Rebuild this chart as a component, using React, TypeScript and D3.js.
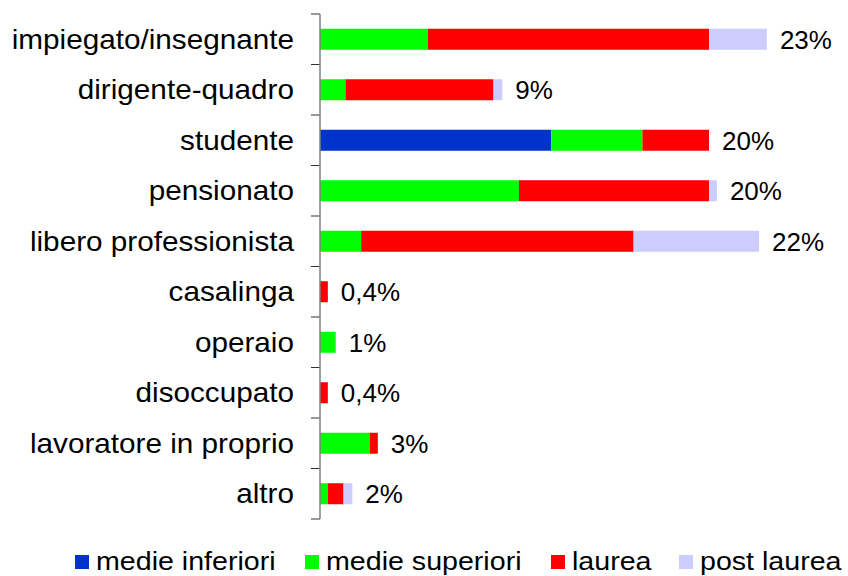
import React, { useRef, useEffect } from "react";
import * as d3 from "d3";

// categories top to bottom
const categories = [
  "impiegato/insegnante",
  "dirigente-quadro",
  "studente",
  "pensionato",
  "libero professionista",
  "casalinga",
  "operaio",
  "disoccupato",
  "lavoratore in proprio",
  "altro",
];

// share (%) of each education level, per category
const medieInferiori = [0, 0, 11.8, 0, 0, 0, 0, 0, 0, 0];
const medieSuperiori = [5.5, 1.3, 4.65, 10.15, 2.1, 0, 0.8, 0, 2.55, 0.4];
const laurea = [14.35, 7.55, 3.4, 9.7, 13.9, 0.4, 0, 0.4, 0.4, 0.8];
const postLaurea = [2.95, 0.45, 0, 0.4, 6.4, 0, 0, 0, 0, 0.45];

const totalLabels = ["23%", "9%", "20%", "20%", "22%", "0,4%", "1%", "0,4%", "3%", "2%"];

const seriesNames = ["medie inferiori", "medie superiori", "laurea", "post laurea"];
const seriesColors = ["#0033cc", "#00ff00", "#ff0000", "#ccccff"];

const FONT = "'Liberation Sans', Arial, sans-serif";

const App = () => {
  const svgRef = useRef<SVGSVGElement>(null);

  useEffect(() => {
    const width = 848;
    const height = 576;
    const svg = d3.select(svgRef.current).attr("width", width).attr("height", height);
    svg.selectAll("*").remove();

    const x0 = 320;
    const x = d3.scaleLinear().domain([0, 10]).range([x0, x0 + 196]);
    const y = d3
      .scaleBand<string>()
      .domain(categories)
      .range([14, 519])
      .paddingInner(0.584)
      .paddingOuter(0.292);

    const rows = categories.map((c, i) => ({
      cat: c,
      values: [medieInferiori[i], medieSuperiori[i], laurea[i], postLaurea[i]],
    }));

    const stack = d3
      .stack<any>()
      .keys([0, 1, 2, 3] as any)
      .value((d: any, k: any) => d.values[k]);
    const stacked = stack(rows as any);

    const g = svg.append("g");

    stacked.forEach((layer, k) => {
      g.selectAll(`rect.s${k}`)
        .data(layer)
        .join("rect")
        .attr("class", `s${k}`)
        .attr("x", (d) => x(d[0]))
        .attr("y", (d: any) => y(d.data.cat)!)
        .attr("width", (d) => x(d[1]) - x(d[0]))
        .attr("height", y.bandwidth())
        .attr("fill", seriesColors[k]);
    });

    // value labels
    g.selectAll("text.total")
      .data(rows)
      .join("text")
      .attr("class", "total")
      .attr("x", (d) => x(d3.sum(d.values)) + 13)
      .attr("y", (d) => y(d.cat)! + y.bandwidth() / 2)
      .attr("dy", "0.36em")
      .attr("font-family", FONT)
      .attr("font-size", 26)
      .attr("fill", "#000")
      .text((d, i) => totalLabels[i]);

    // y axis
    const step = y.step();
    const ticks = d3.range(categories.length + 1).map((i) => 14 + i * step);
    g.selectAll("line.tick")
      .data(ticks)
      .join("line")
      .attr("class", "tick")
      .attr("x1", x0 - 9)
      .attr("x2", x0)
      .attr("y1", (d) => d)
      .attr("y2", (d) => d)
      .attr("stroke", "#333")
      .attr("stroke-width", 1);
    g.append("line")
      .attr("x1", x0)
      .attr("x2", x0)
      .attr("y1", 14)
      .attr("y2", 519)
      .attr("stroke", "#808080")
      .attr("stroke-width", 1.5);

    // category labels, a bit wider than plain Arial like the original
    g.selectAll("text.cat")
      .data(categories)
      .join("text")
      .attr("class", "cat")
      .attr("transform", (d) => `translate(294,${y(d)! + y.bandwidth() / 2}) scale(1.1,1)`)
      .attr("dy", "0.36em")
      .attr("text-anchor", "end")
      .attr("font-family", FONT)
      .attr("font-size", 27)
      .attr("fill", "#000")
      .text((d) => d);

    // legend
    const legend = svg.append("g");
    const slots = [75, 305, 551, 679];
    seriesNames.forEach((name, k) => {
      legend
        .append("rect")
        .attr("x", slots[k])
        .attr("y", 555)
        .attr("width", 14)
        .attr("height", 14)
        .attr("fill", seriesColors[k]);
      legend
        .append("text")
        .attr("transform", `translate(${slots[k] + 21},570) scale(1.1,1)`)
        .attr("font-family", FONT)
        .attr("font-size", 26)
        .attr("fill", "#000")
        .text(name);
    });
  }, []);

  return <svg ref={svgRef} style={{ position: "absolute", left: 0, top: 0 }}></svg>;
};

export default App;
